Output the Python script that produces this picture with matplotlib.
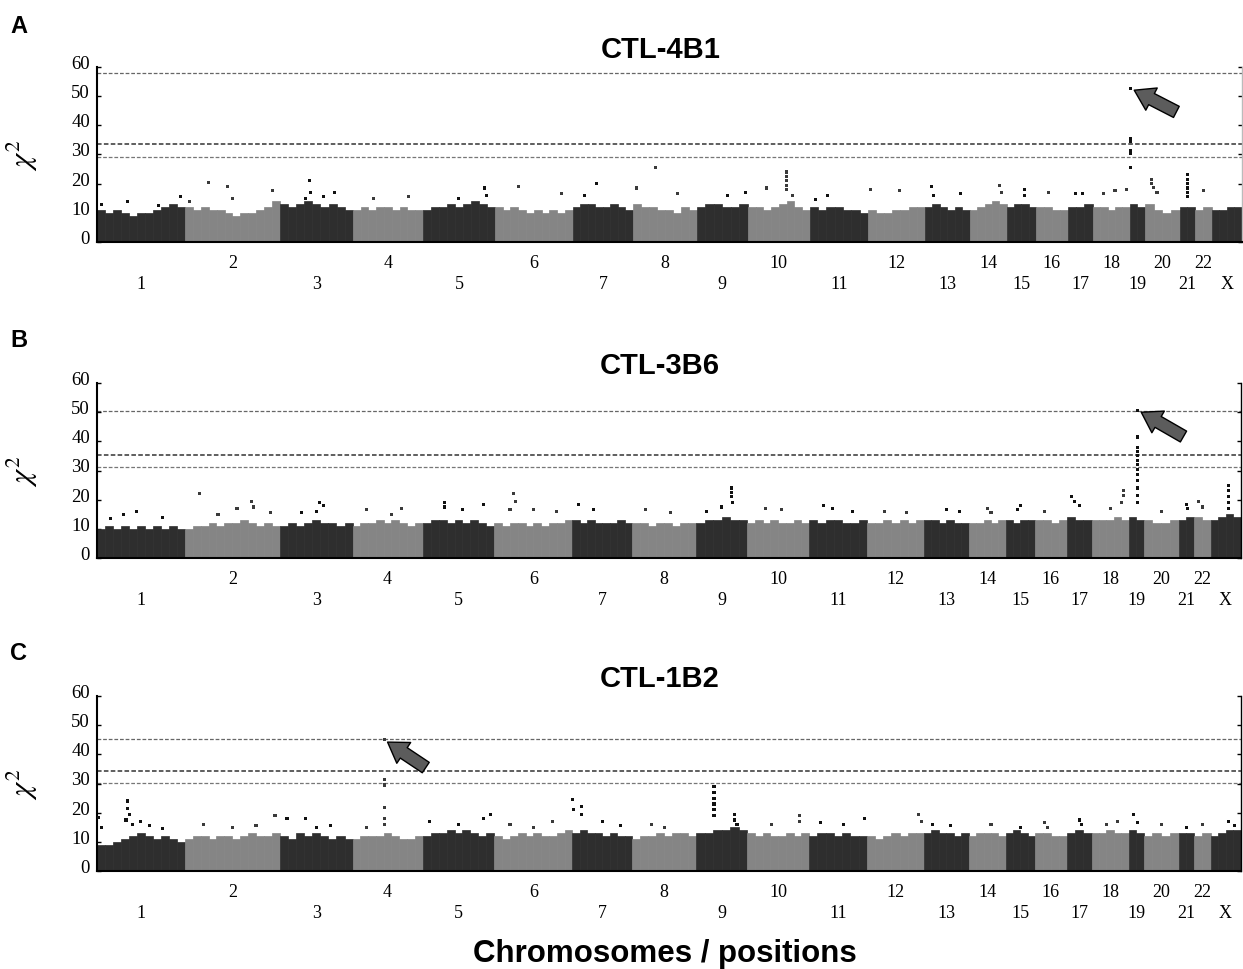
import matplotlib
matplotlib.use('Agg')
import matplotlib.pyplot as plt
from matplotlib.transforms import ScaledTranslation
import numpy as np

plt.rcParams['mathtext.fontset'] = 'stix'

# chromosome order and relative widths on the genome axis
chrom_labels = ['1', '2', '3', '4', '5', '6', '7', '8', '9', '10', '11', '12',
                '13', '14', '15', '16', '17', '18', '19', '20', '21', '22', 'X']
chrom_sizes = [88, 95, 73, 70, 72, 78, 60, 64, 51, 62, 58, 57,
               45, 37, 29, 32, 25, 37, 15, 35, 15, 17, 30]

# dense background of chi2 values: top of the cloud, sampled along each chromosome
a_envelope = [
    [11, 10, 11, 10, 9, 10, 10, 11, 12, 13, 12],
    [12, 11, 12, 11, 11, 10, 9, 10, 10, 11, 12, 14],
    [13, 12, 13, 14, 13, 12, 13, 12, 11],
    [11, 12, 11, 12, 12, 11, 12, 11, 11],
    [11, 12, 12, 13, 12, 13, 14, 13, 12],
    [12, 11, 12, 11, 10, 11, 10, 11, 10, 11],
    [12, 13, 13, 12, 12, 13, 12, 11],
    [13, 12, 12, 11, 11, 10, 12, 11],
    [12, 13, 13, 12, 12, 13],
    [12, 12, 11, 12, 13, 14, 12, 11],
    [12, 11, 12, 12, 11, 11, 10],
    [11, 10, 10, 11, 11, 12, 12],
    [12, 13, 12, 11, 12, 11],
    [11, 12, 13, 14, 13],
    [12, 13, 13, 12],
    [12, 12, 11, 11],
    [12, 12, 13],
    [12, 12, 11, 12, 12],
    [13, 12],
    [13, 11, 10, 11],
    [12, 12],
    [11, 12],
    [11, 11, 12, 12],
]
b_envelope = [
    [10, 11, 10, 11, 10, 11, 10, 11, 10, 11, 10],
    [10, 11, 11, 12, 11, 12, 12, 13, 12, 11, 12, 11],
    [11, 12, 11, 12, 13, 12, 12, 11, 12],
    [11, 12, 12, 13, 12, 13, 12, 11, 12],
    [12, 13, 13, 12, 13, 12, 13, 12, 11],
    [12, 11, 12, 12, 11, 12, 11, 12, 12, 13],
    [13, 12, 13, 12, 12, 12, 13, 12],
    [12, 12, 11, 12, 12, 11, 12, 12],
    [12, 13, 13, 14, 13, 13],
    [12, 13, 12, 13, 12, 12, 13, 12],
    [13, 12, 13, 13, 12, 12, 13],
    [12, 12, 13, 12, 13, 12, 13],
    [13, 13, 12, 13, 12, 12],
    [12, 12, 13, 12, 13],
    [13, 12, 13, 13],
    [13, 13, 12, 13],
    [14, 13, 13],
    [13, 13, 13, 14, 13],
    [14, 13],
    [13, 12, 12, 13],
    [13, 14],
    [14, 13],
    [13, 14, 15, 14],
]
c_envelope = [
    [9, 9, 10, 11, 12, 13, 12, 11, 12, 11, 10],
    [11, 12, 12, 11, 12, 12, 11, 12, 13, 12, 12, 13],
    [12, 11, 13, 12, 13, 12, 11, 12, 11],
    [11, 12, 12, 12, 13, 12, 11, 11, 12],
    [12, 13, 13, 14, 13, 14, 13, 12, 13],
    [12, 11, 12, 13, 12, 13, 12, 12, 13, 14],
    [13, 14, 13, 13, 12, 13, 12, 12],
    [11, 12, 12, 13, 12, 13, 13, 12],
    [13, 13, 14, 14, 15, 14],
    [13, 12, 13, 12, 12, 13, 12, 13],
    [12, 13, 13, 12, 13, 12, 12],
    [12, 11, 12, 13, 12, 13, 13],
    [13, 14, 13, 13, 12, 13],
    [12, 13, 13, 13, 12],
    [13, 14, 13, 12],
    [13, 13, 12, 12],
    [13, 14, 13],
    [13, 13, 14, 13, 13],
    [14, 13],
    [12, 13, 12, 13],
    [13, 13],
    [12, 13],
    [12, 13, 14, 14],
]

# single SNPs standing out of the cloud: (chromosome, fraction along it, chi2)
a_points = [
    ('1', 0.05, 13), ('1', 0.35, 14), ('1', 0.7, 12.5), ('1', 0.95, 15.5),
    ('2', 0.05, 14), ('2', 0.25, 20.5), ('2', 0.45, 19), ('2', 0.5, 15), ('2', 0.92, 17.5),
    ('3', 0.4, 21), ('3', 0.42, 17), ('3', 0.35, 15), ('3', 0.75, 17), ('3', 0.6, 15.5),
    ('4', 0.3, 15), ('4', 0.8, 15.5),
    ('5', 0.5, 15), ('5', 0.85, 18.5), ('5', 0.88, 16),
    ('6', 0.3, 19), ('6', 0.85, 16.5),
    ('7', 0.4, 20), ('7', 0.2, 16),
    ('8', 0.05, 18.5), ('8', 0.35, 25.5), ('8', 0.7, 16.5),
    ('9', 0.6, 16), ('9', 0.95, 17),
    ('10', 0.3, 18.5), ('10', 0.63, 24), ('10', 0.63, 22.5), ('10', 0.63, 21),
    ('10', 0.63, 19.5), ('10', 0.63, 18), ('10', 0.72, 16),
    ('11', 0.3, 16), ('11', 0.1, 14.5),
    ('12', 0.05, 18), ('12', 0.55, 17.5),
    ('13', 0.15, 19), ('13', 0.2, 16), ('13', 0.8, 16.5),
    ('14', 0.8, 19.5), ('14', 0.85, 17),
    ('15', 0.6, 18), ('15', 0.6, 16),
    ('16', 0.4, 17),
    ('17', 0.3, 16.5), ('17', 0.6, 16.5),
    ('18', 0.3, 16.5), ('18', 0.6, 17.5), ('18', 0.9, 18),
    ('19', 0.05, 52.7), ('19', 0.05, 35.6), ('19', 0.05, 34.4), ('19', 0.05, 31.5),
    ('19', 0.05, 30.3), ('19', 0.05, 25.5),
    ('20', 0.2, 21.5), ('20', 0.2, 20), ('20', 0.25, 18.8), ('20', 0.35, 17),
    ('21', 0.5, 23), ('21', 0.5, 21.5), ('21', 0.5, 20), ('21', 0.5, 18.5),
    ('21', 0.5, 17), ('21', 0.5, 15.5),
    ('22', 0.5, 17.5),
]
b_points = [
    ('1', 0.3, 15), ('1', 0.45, 16), ('1', 0.15, 13.5), ('1', 0.75, 14),
    ('2', 0.15, 22), ('2', 0.35, 15), ('2', 0.55, 17), ('2', 0.7, 19.5), ('2', 0.72, 17.5), ('2', 0.9, 15.5),
    ('3', 0.3, 15.5), ('3', 0.55, 19), ('3', 0.6, 18), ('3', 0.5, 16),
    ('4', 0.2, 16.5), ('4', 0.55, 15), ('4', 0.7, 17),
    ('5', 0.3, 19), ('5', 0.3, 17.5), ('5', 0.55, 16.5), ('5', 0.85, 18.5),
    ('6', 0.2, 16.5), ('6', 0.25, 22), ('6', 0.27, 19.5), ('6', 0.5, 16.5), ('6', 0.8, 16),
    ('7', 0.1, 18.5), ('7', 0.35, 16.5),
    ('8', 0.2, 16.5), ('8', 0.6, 15.5),
    ('9', 0.2, 16), ('9', 0.7, 24), ('9', 0.7, 22.5), ('9', 0.7, 21), ('9', 0.72, 19), ('9', 0.5, 17.5),
    ('10', 0.3, 17), ('10', 0.55, 16.5),
    ('11', 0.25, 18), ('11', 0.4, 17), ('11', 0.75, 16),
    ('12', 0.3, 16), ('12', 0.7, 15.5),
    ('13', 0.5, 16.5), ('13', 0.8, 16),
    ('14', 0.5, 17), ('14', 0.6, 15.5),
    ('15', 0.5, 18), ('15', 0.4, 16.5),
    ('16', 0.3, 16),
    ('17', 0.2, 21), ('17', 0.3, 19.5), ('17', 0.5, 18),
    ('18', 0.5, 17), ('18', 0.85, 23), ('18', 0.85, 21.5), ('18', 0.8, 19),
    ('19', 0.6, 50.7), ('19', 0.6, 41.5), ('19', 0.6, 38), ('19', 0.6, 36.5),
    ('19', 0.6, 35), ('19', 0.6, 33.5), ('19', 0.6, 32), ('19', 0.6, 30.5),
    ('19', 0.6, 28.5), ('19', 0.6, 26.5), ('19', 0.6, 24), ('19', 0.6, 21.5), ('19', 0.6, 19),
    ('20', 0.5, 16),
    ('21', 0.5, 18.5), ('21', 0.6, 17),
    ('22', 0.3, 19.5), ('22', 0.5, 17.5),
    ('X', 0.6, 25), ('X', 0.6, 23), ('X', 0.6, 21), ('X', 0.6, 19), ('X', 0.6, 17),
]
c_points = [
    ('1', 0.02, 18.5), ('1', 0.05, 15), ('1', 0.35, 24), ('1', 0.35, 21.5), ('1', 0.37, 19.5),
    ('1', 0.33, 17.5), ('1', 0.4, 16), ('1', 0.5, 17), ('1', 0.6, 15.5), ('1', 0.75, 14.5),
    ('2', 0.2, 16), ('2', 0.5, 15), ('2', 0.75, 15.5), ('2', 0.95, 19),
    ('3', 0.1, 18), ('3', 0.35, 18), ('3', 0.5, 15), ('3', 0.7, 15.5),
    ('4', 0.45, 45), ('4', 0.45, 31.3), ('4', 0.45, 29.5), ('4', 0.45, 21.7),
    ('4', 0.45, 18), ('4', 0.45, 16), ('4', 0.2, 15),
    ('5', 0.1, 17), ('5', 0.5, 16), ('5', 0.85, 18), ('5', 0.95, 19.5),
    ('6', 0.2, 16), ('6', 0.5, 15), ('6', 0.75, 17),
    ('7', 0.0, 24.5), ('7', 0.02, 21), ('7', 0.15, 22), ('7', 0.15, 19.5), ('7', 0.5, 17), ('7', 0.8, 15.5),
    ('8', 0.3, 16), ('8', 0.5, 15),
    ('9', 0.35, 29), ('9', 0.35, 27), ('9', 0.35, 25), ('9', 0.35, 23), ('9', 0.35, 21),
    ('9', 0.35, 19), ('9', 0.75, 19.5), ('9', 0.75, 17.5), ('9', 0.8, 16),
    ('10', 0.4, 16), ('10', 0.85, 19), ('10', 0.85, 17),
    ('11', 0.2, 16.5), ('11', 0.6, 16), ('11', 0.95, 18),
    ('12', 0.9, 19.5), ('12', 0.95, 17),
    ('13', 0.2, 16), ('13', 0.6, 15.5),
    ('14', 0.6, 16),
    ('15', 0.5, 15),
    ('16', 0.3, 16.5), ('16', 0.4, 15),
    ('17', 0.5, 17.5), ('17', 0.6, 16),
    ('18', 0.4, 16), ('18', 0.7, 17),
    ('19', 0.3, 19.5), ('19', 0.6, 16.5),
    ('20', 0.5, 16),
    ('21', 0.5, 15),
    ('22', 0.5, 16),
    ('X', 0.6, 17), ('X', 0.8, 15.5),
]

# significance thresholds (dashed lines)
a_thresholds = [58.1, 33.6, 29.0]
b_thresholds = [50.3, 35.3, 31.1]
c_thresholds = [45.2, 34.4, 30.3]

DARK = '#2e2e2e'
LIGHT = '#858585'
SANS = 'Liberation Sans'
SERIF = 'Liberation Serif'


def draw_panel(fig, rect, title, envelope, points, thresholds, arrow_offset, right_color):
    ax = fig.add_axes(rect)
    starts = np.concatenate([[0], np.cumsum(chrom_sizes)[:-1]])
    centers = starts + np.array(chrom_sizes) / 2

    for i, (start, size, heights) in enumerate(zip(starts, chrom_sizes, envelope)):
        color = DARK if i % 2 == 0 else LIGHT
        w = size / len(heights)
        xs = start + w * np.arange(len(heights))
        ax.bar(xs, heights, width=w, align='edge', color=color,
               edgecolor=color, linewidth=0.5, zorder=2)

    idx = [chrom_labels.index(c) for c, f, v in points]
    px = [starts[i] + f * chrom_sizes[i] for i, (c, f, v) in zip(idx, points)]
    py = [v for c, f, v in points]
    pc = ['#111111' if i % 2 == 0 else '#3a3a3a' for i in idx]
    ax.scatter(px, py, s=5, marker='s', c=pc, linewidths=0, zorder=3)

    styles = [('#666666', 0.9), ('#333333', 1.1), ('#777777', 0.9)]
    for t, (col, lw) in zip(thresholds, styles):
        ax.axhline(t, color=col, lw=lw, ls=(0, (3, 1.5)), zorder=1)

    # arrow pointing at the top hit
    top = int(np.argmax(py))
    ax.annotate('', xy=(px[top], py[top]), xytext=arrow_offset,
                textcoords='offset points',
                arrowprops=dict(arrowstyle='simple,head_width=0.9,head_length=0.7,tail_width=0.45',
                                mutation_scale=20, fc='#5c5c5c', ec='black', lw=1,
                                shrinkA=0, shrinkB=3), zorder=4)

    ax.set_xlim(0, sum(chrom_sizes))
    ax.set_ylim(0, 60)
    ax.set_yticks(range(0, 61, 10))
    ax.tick_params(axis='y', direction='in', length=3, width=1, labelsize=13.5,
                   pad=5, right=True)
    for lab in ax.get_yticklabels():
        lab.set_family(SERIF)
        lab.set_transform(lab.get_transform() + ScaledTranslation(0, 4 / 72, fig.dpi_scale_trans))

    odd = list(range(0, 23, 2))
    even = list(range(1, 23, 2))
    ax.set_xticks(centers[odd])
    ax.set_xticklabels([chrom_labels[i] for i in odd], family=SERIF, fontsize=13)
    ax.set_xticks(centers[even], minor=True)
    ax.set_xticklabels([chrom_labels[i] for i in even], minor=True, family=SERIF, fontsize=13)
    ax.tick_params(axis='x', which='major', length=0, pad=23.5)
    ax.tick_params(axis='x', which='minor', length=0, pad=8.5)

    ax.spines['top'].set_visible(False)
    ax.spines['left'].set_linewidth(1.5)
    ax.spines['bottom'].set_linewidth(1.5)
    ax.spines['right'].set_color(right_color)
    ax.spines['right'].set_linewidth(1.0)

    ax.set_ylabel(r'$\chi^2$', fontsize=22)
    ax.yaxis.set_label_coords(-0.050, 0.5)
    ax.set_title(title, fontsize=21, fontweight='bold', family=SANS, pad=7, x=0.492)
    return ax


fig = plt.figure(figsize=(12.43, 9.70), dpi=100)

draw_panel(fig, [0.078, 0.7495, 0.921, 0.1804], 'CTL-4B1', a_envelope, a_points,
           a_thresholds, (33, -17), '#bbbbbb')
draw_panel(fig, [0.078, 0.4237, 0.920, 0.1804], 'CTL-3B6', b_envelope, b_points,
           b_thresholds, (33, -19), 'black')
draw_panel(fig, [0.078, 0.1010, 0.920, 0.1804], 'CTL-1B2', c_envelope, c_points,
           c_thresholds, (30, -20), 'black')

for letter, y in [('A', 0.966), ('B', 0.642), ('C', 0.3196)]:
    fig.text(0.008, y, letter, fontsize=17, fontweight='bold', family=SANS, va='baseline')

fig.text(0.535, 0.0082, 'Chromosomes / positions', fontsize=22.5, fontweight='bold',
         family=SANS, ha='center', va='baseline')

fig.savefig('out.png', dpi=100)
